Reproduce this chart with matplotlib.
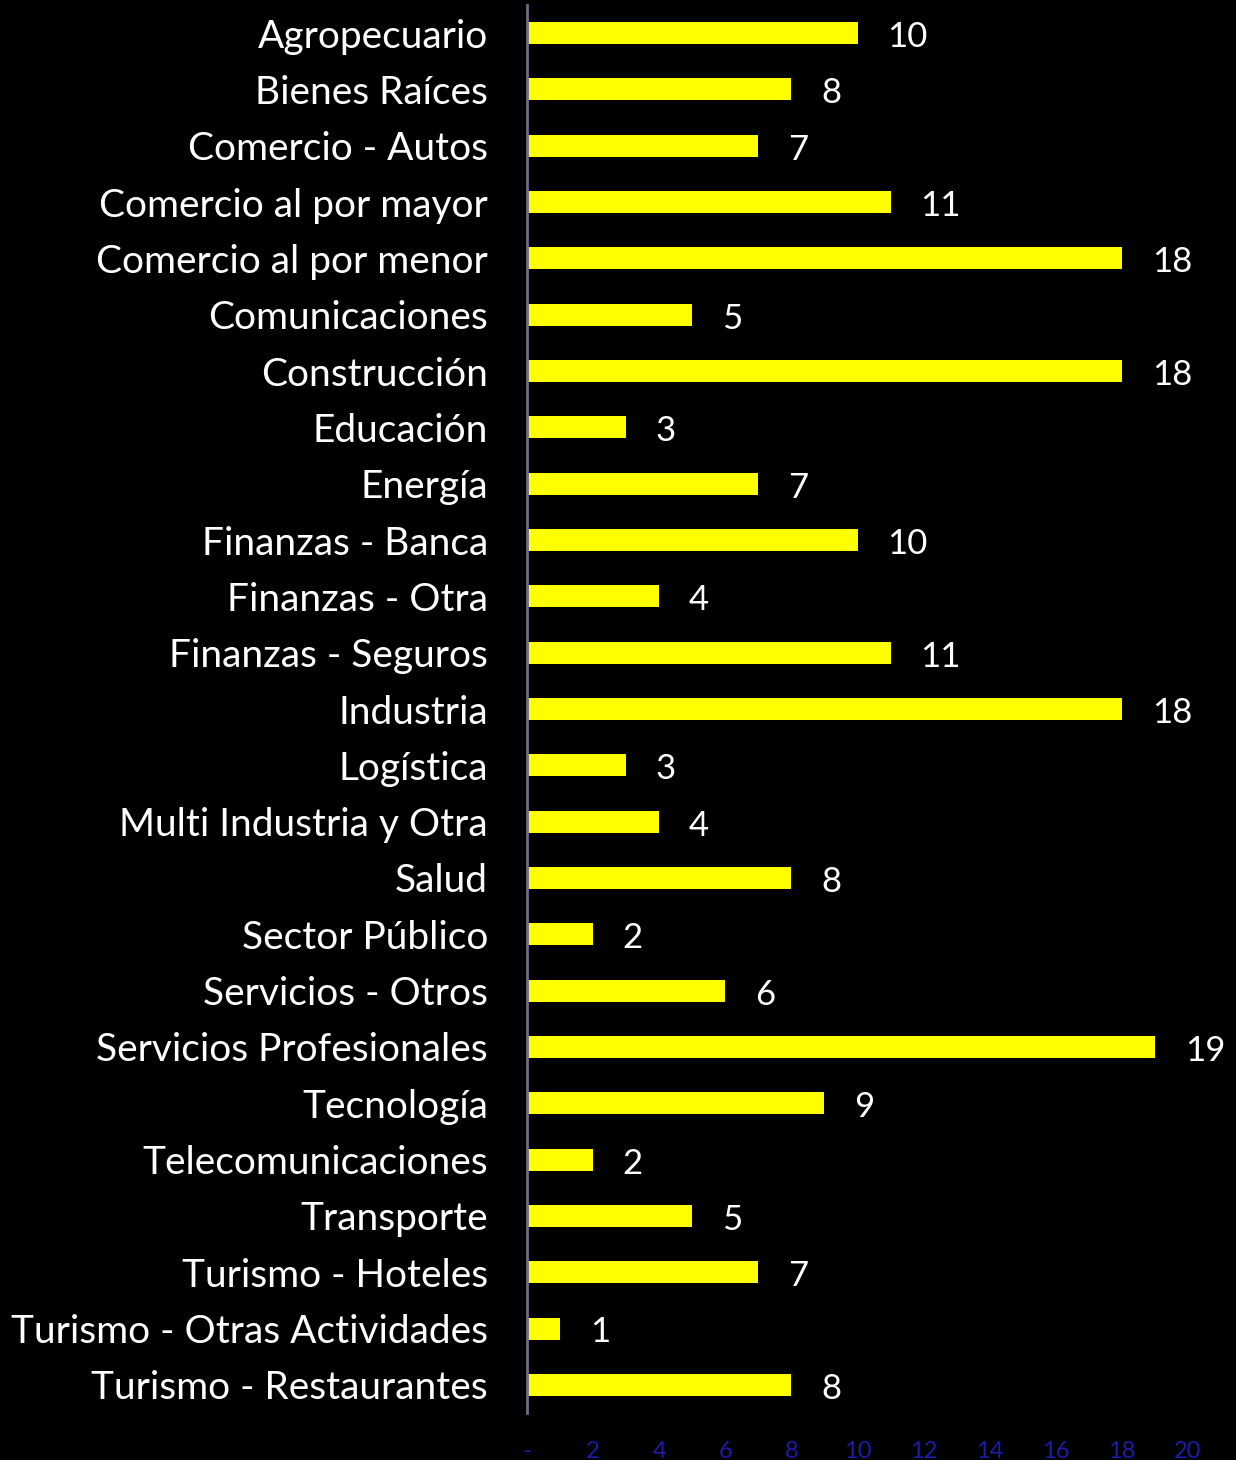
import matplotlib
matplotlib.use("Agg")
import matplotlib.pyplot as plt

# sector counts, top to bottom as in the chart
sectors = [
    "Agropecuario", "Bienes Raíces", "Comercio - Autos", "Comercio al por mayor",
    "Comercio al por menor", "Comunicaciones", "Construcción", "Educación",
    "Energía", "Finanzas - Banca", "Finanzas - Otra", "Finanzas - Seguros",
    "Industria", "Logística", "Multi Industria y Otra", "Salud",
    "Sector Público", "Servicios - Otros", "Servicios Profesionales", "Tecnología",
    "Telecomunicaciones", "Transporte", "Turismo - Hoteles",
    "Turismo - Otras Actividades", "Turismo - Restaurantes",
]
counts = [10, 8, 7, 11, 18, 5, 18, 3, 7, 10, 4, 11, 18, 3, 4, 8, 2, 6, 19, 9, 2, 5, 7, 1, 8]
x_ticks = [0, 2, 4, 6, 8, 10, 12, 14, 16, 18, 20]
x_tick_labels = ["-"] + [str(t) for t in x_ticks[1:]]

plt.rcParams['font.family'] = ['Lato', 'DejaVu Sans']

fig = plt.figure(figsize=(12.36, 14.6), dpi=100, facecolor='black')
ax = fig.add_axes([527 / 1236, 1 - 1413 / 1460, (1188 - 527) / 1236, 1408 / 1460])
ax.set_facecolor('black')

ypos = list(range(len(sectors)))
ax.barh(ypos, counts, height=0.39, color='#ffff00')

# value labels to the right of each bar
for y, v in zip(ypos, counts):
    ax.text(v + 0.9, y + 0.07, str(v), color='white', fontsize=25, va='center', ha='left')

ax.set_ylim(len(sectors) - 0.5, -0.5)
ax.set_xlim(0, 20)
ax.set_yticks(ypos)
ax.set_yticklabels(sectors, color='white', fontsize=28)
ax.set_xticks(x_ticks)
ax.set_xticklabels(x_tick_labels, color='#1c1ca8', fontsize=17)
ax.tick_params(axis='y', length=0, pad=28)
ax.tick_params(axis='x', length=0, pad=20)

for side in ['top', 'right', 'bottom']:
    ax.spines[side].set_visible(False)
ax.spines['left'].set_color('#6b6b8a')
ax.spines['left'].set_linewidth(2)

fig.savefig('out.png', dpi=100, facecolor='black')
